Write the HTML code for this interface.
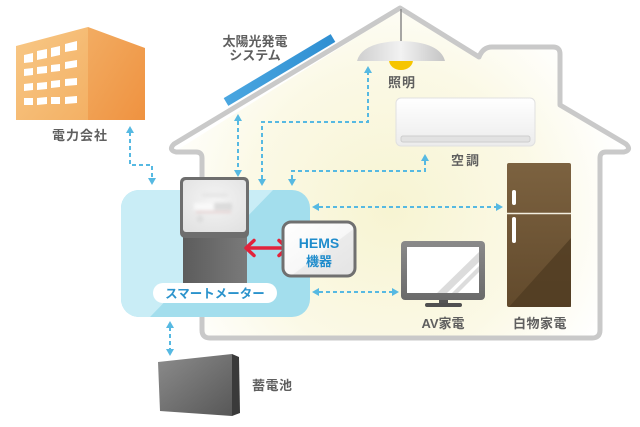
<!DOCTYPE html>
<html><head><meta charset="utf-8"><style>
html,body{margin:0;padding:0;background:#fff;}
svg{display:block;}
text{font-family:"Liberation Sans","Noto Sans CJK JP",sans-serif;font-weight:bold;}
.lbl{fill:#5f5f5f;font-size:13px;}
.d{fill:none;stroke:#56b9e2;stroke-width:2;stroke-dasharray:4 3;}
.h{fill:#56b9e2;}
</style></head><body>
<svg width="640" height="427" viewBox="0 0 640 427" xmlns="http://www.w3.org/2000/svg">
<defs>
<radialGradient id="cream" cx="390" cy="210" r="240" gradientUnits="userSpaceOnUse">
<stop offset="0" stop-color="#f7f4d2"/><stop offset="0.6" stop-color="#fbf9e6"/><stop offset="1" stop-color="#ffffff"/>
</radialGradient>
<linearGradient id="bfront" x1="0" y1="0" x2="1" y2="1"><stop offset="0" stop-color="#f8c886"/><stop offset="1" stop-color="#f3b064"/></linearGradient>
<linearGradient id="bside" x1="0" y1="0" x2="1" y2="1"><stop offset="0" stop-color="#f2ac62"/><stop offset="1" stop-color="#ef9240"/></linearGradient>
<linearGradient id="panel" x1="0" y1="0" x2="1" y2="0"><stop offset="0" stop-color="#4aa6e0"/><stop offset="1" stop-color="#2f8fd2"/></linearGradient>
<linearGradient id="shade" x1="0" y1="0" x2="1" y2="0"><stop offset="0" stop-color="#cfcfcf"/><stop offset="0.5" stop-color="#f2f2f2"/><stop offset="1" stop-color="#c4c4c4"/></linearGradient>
<linearGradient id="ac" x1="0" y1="0" x2="0" y2="1"><stop offset="0" stop-color="#ffffff"/><stop offset="1" stop-color="#ececec"/></linearGradient>
<linearGradient id="fr" x1="0" y1="0" x2="0" y2="1"><stop offset="0" stop-color="#7c6240"/><stop offset="1" stop-color="#624a2c"/></linearGradient>
<linearGradient id="tv" x1="0" y1="0" x2="0" y2="1"><stop offset="0" stop-color="#8a8a8a"/><stop offset="1" stop-color="#6a6a6a"/></linearGradient>
<linearGradient id="bat" x1="0" y1="0" x2="1" y2="1"><stop offset="0" stop-color="#8c8c8c"/><stop offset="1" stop-color="#575757"/></linearGradient>
<linearGradient id="mbody" x1="0" y1="0" x2="1" y2="0"><stop offset="0" stop-color="#5c5c5c"/><stop offset="0.6" stop-color="#6e6e6e"/><stop offset="1" stop-color="#7a7a7a"/></linearGradient>
<linearGradient id="hems" x1="0" y1="0" x2="1" y2="1"><stop offset="0" stop-color="#ffffff"/><stop offset="0.55" stop-color="#f7f7f7"/><stop offset="0.56" stop-color="#ebebeb"/><stop offset="1" stop-color="#e4e4e4"/></linearGradient>
<radialGradient id="disp" cx="0.5" cy="0.4" r="0.7"><stop offset="0" stop-color="#f4f4f4"/><stop offset="1" stop-color="#e2e2e2"/></radialGradient>
<filter id="blur1"><feGaussianBlur stdDeviation="1.6"/></filter>
<clipPath id="boxclip"><rect x="121" y="190" width="189" height="127" rx="18"/></clipPath>
</defs>

<!-- house interior -->
<path d="M202,152 L174,152 L400,10 L481,57 L487,47 L560,47 L560,105 L628,148 L600,152 L600,330 Q600,338 592,338 L210,338 Q202,338 202,330 Z" fill="url(#cream)"/>
<!-- house outline -->
<path d="M202,178 L202,158 Q202,152 196,152 L176,152 Q168,150 174,144 L400,8 L479,57 Q483,47 492,47 L553,47 Q560,47 560,54 L560,105 L626,144 Q632,150 624,152 L606,152 Q600,152 600,158 L600,330 Q600,338 592,338 L210,338 Q202,338 202,330 L202,310" fill="none" stroke="#c9c9c9" stroke-width="5" stroke-linejoin="round" stroke-linecap="round"/>

<!-- building -->
<polygon points="16,46 88,27 88,120 16,120" fill="url(#bfront)"/>
<polygon points="88,27 145,48 145,120 88,120" fill="url(#bside)"/>
<g fill="#ffffff">
<polygon points="24,55 33,53 33,62 24,63"/><polygon points="37,51 47,49 47,58 37,60"/><polygon points="51,48 60,46 60,55 51,57"/><polygon points="65,44 77,41 77,50 65,52"/>
<polygon points="24,69 33,68 33,75 24,76"/><polygon points="37,67 47,66 47,73 37,74"/><polygon points="51,65 60,64 60,71 51,72"/><polygon points="65,62 77,60 77,67 65,69"/>
<polygon points="24,84 33,83 33,90 24,91"/><polygon points="37,83 47,82 47,89 37,90"/><polygon points="51,81 60,80 60,87 51,88"/><polygon points="65,79 77,78 77,85 65,86"/>
<polygon points="24,98 33,98 33,105 24,105"/><polygon points="37,98 47,97 47,104 37,105"/><polygon points="51,97 60,97 60,104 51,104"/><polygon points="65,97 77,96 77,103 65,104"/>
</g>
<text class="lbl" x="80" y="140" text-anchor="middle" letter-spacing="1">電力会社</text>

<!-- solar panel -->
<line x1="226" y1="102" x2="333" y2="38" stroke="url(#panel)" stroke-width="9"/>
<text class="lbl" x="255" y="46" text-anchor="middle" font-size="12">太陽光発電</text>
<text class="lbl" x="255" y="60" text-anchor="middle" font-size="12">システム</text>

<!-- lamp -->
<line x1="401" y1="9" x2="401" y2="42" stroke="#8a8a8a" stroke-width="1.5"/>
<path d="M389,60 A12,10 0 0 0 413,60 Z" fill="#f6c500"/>
<path d="M357,61 Q362,42 401,41 Q440,42 445,61 Z" fill="url(#shade)"/>
<text class="lbl" x="402" y="87" text-anchor="middle" letter-spacing="1">照明</text>

<!-- aircon -->
<rect x="396" y="98" width="139" height="48" rx="5" fill="url(#ac)" stroke="#e0e0e0" stroke-width="1"/>
<rect x="401" y="136" width="129" height="6" rx="2" fill="#e2e2e2" stroke="#cdcdcd" stroke-width="1"/>
<text class="lbl" x="466" y="165" text-anchor="middle" letter-spacing="2">空調</text>

<!-- fridge -->
<rect x="507" y="163" width="64" height="144" rx="2" fill="url(#fr)"/>
<polygon points="571,238 571,307 509,307" fill="#4f3b22" opacity="0.75"/>
<line x1="507" y1="213.5" x2="571" y2="213.5" stroke="#f3efe0" stroke-width="1.5"/>
<rect x="512" y="190" width="4" height="15" rx="2" fill="#fff"/>
<rect x="512" y="217" width="4" height="26" rx="2" fill="#fff"/>
<text class="lbl" x="540" y="328" text-anchor="middle" letter-spacing="0.5">白物家電</text>

<!-- TV -->
<rect x="401" y="241" width="84" height="59" rx="4" fill="url(#tv)"/>
<rect x="407" y="247" width="72" height="46" fill="#ffffff"/>
<polygon points="437,293 447,293 479,262 479,252" fill="#dcdcdc"/>
<polygon points="452,293 458,293 479,272 479,266" fill="#dcdcdc"/>
<rect x="439" y="300" width="9" height="4" fill="#555"/>
<rect x="425" y="303" width="37" height="4" rx="2" fill="#505050"/>
<text class="lbl" x="443" y="328" text-anchor="middle">AV家電</text>

<!-- battery -->
<polygon points="158,362 232,354 232,416 160,411" fill="url(#bat)"/>
<polygon points="232,354 239,357 240,413 232,416" fill="#3a3a3a"/>
<text class="lbl" x="252" y="390" letter-spacing="0.5">蓄電池</text>

<!-- blue box -->
<g clip-path="url(#boxclip)">
<rect x="121" y="190" width="189" height="127" fill="#a3deed"/>
<polygon points="121,190 273,190 150,317 121,317" fill="#c9edf6"/>
</g>

<!-- smart meter -->
<rect x="183" y="232" width="64" height="58" fill="url(#mbody)"/>
<rect x="180" y="177" width="69" height="61" rx="5" fill="#6e6e6e"/>
<rect x="183" y="180" width="63" height="52" rx="3" fill="url(#disp)"/>
<g filter="url(#blur1)" opacity="0.8">
<rect x="194" y="203" width="38" height="7" fill="#fbfbfb"/>
<rect x="214" y="203" width="18" height="7" fill="#d6d6d6"/>
<line x1="196" y1="212" x2="231" y2="212" stroke="#e0b4b4" stroke-width="1.2"/>
<circle cx="200" cy="219" r="3.5" fill="#dadada"/>
<rect x="202" y="193" width="26" height="4" fill="#e4e4e4"/>
</g>
<rect x="153" y="283" width="124" height="20" rx="10" fill="#ffffff"/>
<text x="215" y="298" text-anchor="middle" font-size="12.5" fill="#2b93cc">スマートメーター</text>

<!-- red arrow -->
<line x1="246" y1="248" x2="287" y2="248" stroke="#e2233b" stroke-width="3.5"/>
<polyline points="254,240.5 246,248 254,255.5" fill="none" stroke="#e2233b" stroke-width="3.5" stroke-linecap="round" stroke-linejoin="round"/>
<polyline points="279,240.5 287,248 279,255.5" fill="none" stroke="#e2233b" stroke-width="3.5" stroke-linecap="round" stroke-linejoin="round"/>

<!-- HEMS -->
<rect x="283" y="222" width="72" height="54" rx="8" fill="url(#hems)" stroke="#707070" stroke-width="3"/>
<text x="319" y="248" text-anchor="middle" font-size="14" fill="#1f8ccc">HEMS</text>
<text x="319" y="266" text-anchor="middle" font-size="13" fill="#1f8ccc">機器</text>

<!-- dashed connectors -->
<path class="d" d="M130,132 L130,165 L152,165 L152,179"/>
<polygon class="h" points="130,126 126,133 134,133"/>
<polygon class="h" points="152,185 148,178 156,178"/>

<path class="d" d="M238,121 L238,170"/>
<polygon class="h" points="238,114 234,121 242,121"/>
<polygon class="h" points="238,177 234,170 242,170"/>

<path class="d" d="M262,179 L262,122 L368,122 L368,72"/>
<polygon class="h" points="262,186 258,179 266,179"/>
<polygon class="h" points="368,66 364,73 372,73"/>

<path class="d" d="M292,179 L292,171 L425,171 L425,160"/>
<polygon class="h" points="292,186 288,179 296,179"/>
<polygon class="h" points="425,154 421,161 429,161"/>

<path class="d" d="M319,207 L496,207"/>
<polygon class="h" points="312,207 319,203 319,211"/>
<polygon class="h" points="503,207 496,203 496,211"/>

<path class="d" d="M319,292 L392,292"/>
<polygon class="h" points="312,292 319,288 319,296"/>
<polygon class="h" points="399,292 392,288 392,296"/>

<path class="d" d="M170,327 L170,350"/>
<polygon class="h" points="170,321 166,328 174,328"/>
<polygon class="h" points="170,356 166,349 174,349"/>
</svg>
</body></html>
